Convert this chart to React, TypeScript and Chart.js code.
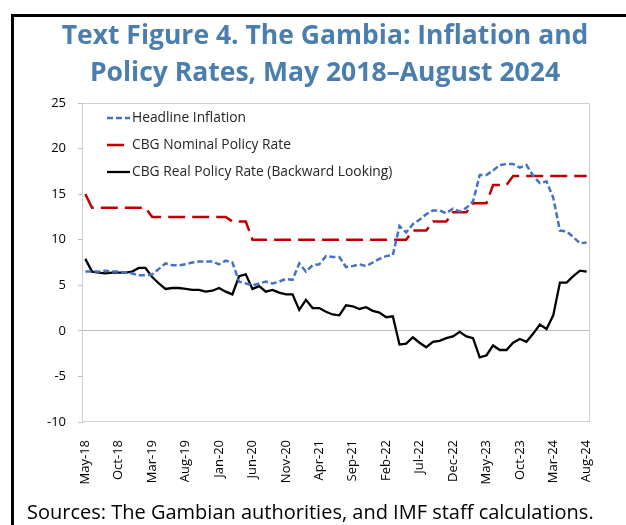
import React, { useEffect, useRef } from 'react';
import { Chart, registerables } from 'chart.js';

Chart.register(...registerables);

const MONTHS = [
  'May-18', 'Jun-18', 'Jul-18', 'Aug-18', 'Sep-18', 'Oct-18', 'Nov-18', 'Dec-18',
  'Jan-19', 'Feb-19', 'Mar-19', 'Apr-19', 'May-19', 'Jun-19', 'Jul-19', 'Aug-19', 'Sep-19', 'Oct-19', 'Nov-19', 'Dec-19',
  'Jan-20', 'Feb-20', 'Mar-20', 'Apr-20', 'May-20', 'Jun-20', 'Jul-20', 'Aug-20', 'Sep-20', 'Oct-20', 'Nov-20', 'Dec-20',
  'Jan-21', 'Feb-21', 'Mar-21', 'Apr-21', 'May-21', 'Jun-21', 'Jul-21', 'Aug-21', 'Sep-21', 'Oct-21', 'Nov-21', 'Dec-21',
  'Jan-22', 'Feb-22', 'Mar-22', 'Apr-22', 'May-22', 'Jun-22', 'Jul-22', 'Aug-22', 'Sep-22', 'Oct-22', 'Nov-22', 'Dec-22',
  'Jan-23', 'Feb-23', 'Mar-23', 'Apr-23', 'May-23', 'Jun-23', 'Jul-23', 'Aug-23', 'Sep-23', 'Oct-23', 'Nov-23', 'Dec-23',
  'Jan-24', 'Feb-24', 'Mar-24', 'Apr-24', 'May-24', 'Jun-24', 'Jul-24', 'Aug-24',
];

const TICK_LABELS = [
  'May-18', 'Oct-18', 'Mar-19', 'Aug-19', 'Jan-20', 'Jun-20', 'Nov-20', 'Apr-21',
  'Sep-21', 'Feb-22', 'Jul-22', 'Dec-22', 'May-23', 'Oct-23', 'Mar-24', 'Aug-24',
];

const HEADLINE_INFLATION = [
  6.5, 6.5, 6.5, 6.6, 6.5, 6.5, 6.4, 6.3, 6.1, 6.1,
  6.2, 6.8, 7.4, 7.2, 7.2, 7.3, 7.5, 7.6, 7.6, 7.6,
  7.3, 7.7, 7.5, 5.4, 5.2, 5.0, 5.2, 5.4, 5.2, 5.4,
  5.7, 5.6, 7.4, 6.5, 7.2, 7.3, 8.2, 8.1, 8.1, 7.0,
  7.1, 7.3, 7.1, 7.5, 7.9, 8.2, 8.3, 11.5, 10.8, 11.7,
  12.2, 12.8, 13.2, 13.2, 12.9, 13.4, 13.1, 13.5, 14.2, 17.1,
  17.1, 17.6, 18.2, 18.3, 18.3, 17.9, 18.2, 17.0, 16.2, 16.4,
  14.6, 11.0, 10.9, 10.3, 9.6, 9.7,
];

const NOMINAL_POLICY_RATE = [
  15, 13.5, 13.5, 13.5, 13.5, 13.5, 13.5, 13.5, 13.5, 13.5,
  12.5, 12.5, 12.5, 12.5, 12.5, 12.5, 12.5, 12.5, 12.5, 12.5,
  12.5, 12.5, 12, 12, 12, 10, 10, 10, 10, 10,
  10, 10, 10, 10, 10, 10, 10, 10, 10, 10,
  10, 10, 10, 10, 10, 10, 10, 10, 10, 11,
  11, 11, 12, 12, 12, 13, 13, 13, 14, 14,
  14, 16, 16, 16, 17, 17, 17, 17, 17, 17,
  17, 17, 17, 17, 17, 17,
];

const REAL_POLICY_RATE = [
  7.9, 6.5, 6.4, 6.3, 6.4, 6.4, 6.4, 6.5, 6.9, 6.9,
  5.9, 5.2, 4.6, 4.7, 4.7, 4.6, 4.5, 4.5, 4.3, 4.4,
  4.7, 4.3, 4.0, 6.0, 6.2, 4.6, 4.9, 4.3, 4.5, 4.2,
  4.0, 4.0, 2.3, 3.4, 2.5, 2.5, 2.1, 1.8, 1.7, 2.8,
  2.7, 2.4, 2.6, 2.2, 2.0, 1.5, 1.6, -1.5, -1.4, -0.7,
  -1.3, -1.8, -1.2, -1.1, -0.8, -0.6, -0.1, -0.6, -0.8, -2.9,
  -2.7, -1.6, -2.1, -2.1, -1.3, -0.9, -1.2, -0.3, 0.7, 0.2,
  1.7, 5.3, 5.3, 6.0, 6.6, 6.5,
];

const SERIES_NAMES = [
  'Headline Inflation',
  'CBG Nominal Policy Rate',
  'CBG Real Policy Rate (Backward Looking)',
];

const FONT = '"Open Sans", "Noto Sans", sans-serif';

const framePlugin = {
  id: 'frame',
  beforeDatasetsDraw(chart: any) {
    const { ctx, chartArea: a } = chart;
    ctx.save();
    ctx.strokeStyle = '#D0D0D0';
    ctx.lineWidth = 1;
    ctx.strokeRect(Math.round(a.left) + 0.5, Math.round(a.top) + 0.5, Math.round(a.width) - 1, Math.round(a.height) - 1);
    ctx.restore();
  },
};

const legendPlugin = {
  id: 'insideLegend',
  afterDatasetsDraw(chart: any) {
    const { ctx, chartArea: a } = chart;
    ctx.save();
    chart.data.datasets.forEach((ds: any, i: number) => {
      const y = a.top + 15 + i * 27;
      const x0 = a.left + 25;
      ctx.beginPath();
      ctx.setLineDash(ds.borderDash || []);
      ctx.strokeStyle = ds.borderColor;
      ctx.lineWidth = ds.borderWidth;
      ctx.moveTo(x0, y);
      ctx.lineTo(x0 + 23, y);
      ctx.stroke();
      ctx.setLineDash([]);
      ctx.fillStyle = '#262626';
      ctx.font = `13.8px ${FONT}`;
      ctx.textBaseline = 'middle';
      ctx.textAlign = 'left';
      ctx.fillText(ds.label, x0 + 25, y);
    });
    ctx.restore();
  },
};

export default function App() {
  const ref = useRef<HTMLCanvasElement>(null);

  useEffect(() => {
    const chart = new Chart(ref.current as HTMLCanvasElement, {
      type: 'line',
      data: {
        labels: MONTHS,
        datasets: [
          {
            label: SERIES_NAMES[0],
            data: HEADLINE_INFLATION,
            borderColor: '#4472C4',
            borderWidth: 2.5,
            borderDash: [6, 3],
            pointRadius: 0,
            tension: 0,
            fill: false,
          },
          {
            label: SERIES_NAMES[1],
            data: NOMINAL_POLICY_RATE,
            borderColor: '#C00000',
            borderWidth: 2.5,
            borderDash: [17, 7],
            pointRadius: 0,
            tension: 0,
            fill: false,
          },
          {
            label: SERIES_NAMES[2],
            data: REAL_POLICY_RATE,
            borderColor: '#000000',
            borderWidth: 2.3,
            pointRadius: 0,
            tension: 0,
            fill: false,
          },
        ],
      },
      options: {
        animation: false,
        responsive: true,
        maintainAspectRatio: false,
        layout: { padding: { left: 0, top: 103, right: 36, bottom: 0 } },
        plugins: {
          legend: { display: false },
          title: { display: false },
          tooltip: { enabled: false },
        },
        scales: {
          x: {
            type: 'category',
            offset: true,
            grid: { display: false },
            border: { display: false },
            ticks: {
              autoSkip: false,
              maxRotation: 90,
              minRotation: 90,
              padding: 10,
              color: '#000',
              font: { family: FONT, size: 13 },
              callback: (_v: any, i: number) => (TICK_LABELS.includes(MONTHS[i]) ? MONTHS[i] : null),
            },
            afterFit: (s: any) => {
              s.height = 103;
            },
          },
          y: {
            min: -10,
            max: 25,
            ticks: {
              stepSize: 5,
              padding: 12,
              color: '#000',
              font: { family: FONT, size: 13 },
            },
            grid: {
              color: (ctx: any) => (ctx.tick && ctx.tick.value === 0 ? '#BFBFBF' : 'rgba(0,0,0,0)'),
              tickColor: '#BFBFBF',
              tickLength: 4,
              lineWidth: 1,
            },
            border: { color: '#C8C8C8' },
            afterFit: (s: any) => {
              s.width = 82;
            },
          },
        },
      },
      plugins: [framePlugin, legendPlugin],
    } as any);
    return () => chart.destroy();
  }, []);

  return (
    <div style={{ position: 'absolute', left: 0, top: 0, width: 626, height: 525, overflow: 'hidden', background: '#fff' }}>
      <div
        style={{
          position: 'absolute',
          left: 11,
          top: 14,
          width: 660,
          height: 560,
          border: '3px solid #000',
          boxSizing: 'border-box',
        }}
      />
      <div style={{ position: 'absolute', left: 0, top: 0, width: 626, height: 525 }}>
        <canvas ref={ref} />
      </div>
      <div
        style={{
          position: 'absolute',
          left: 15,
          top: 16,
          width: 620,
          textAlign: 'center',
          fontFamily: '"Open Sans", sans-serif',
          fontWeight: 700,
          fontSize: 26.5,
          lineHeight: '37px',
          color: '#4A7EAE',
          whiteSpace: 'nowrap',
        }}
      >
        Text Figure 4. The Gambia: Inflation and
        <br />
        Policy Rates, May 2018–August 2024
      </div>
      <div
        style={{
          position: 'absolute',
          left: 27,
          top: 498,
          whiteSpace: 'nowrap',
          fontFamily: FONT,
          fontSize: 20,
          color: '#000',
        }}
      >
        Sources: The Gambian authorities, and IMF staff calculations.
      </div>
    </div>
  );
}
